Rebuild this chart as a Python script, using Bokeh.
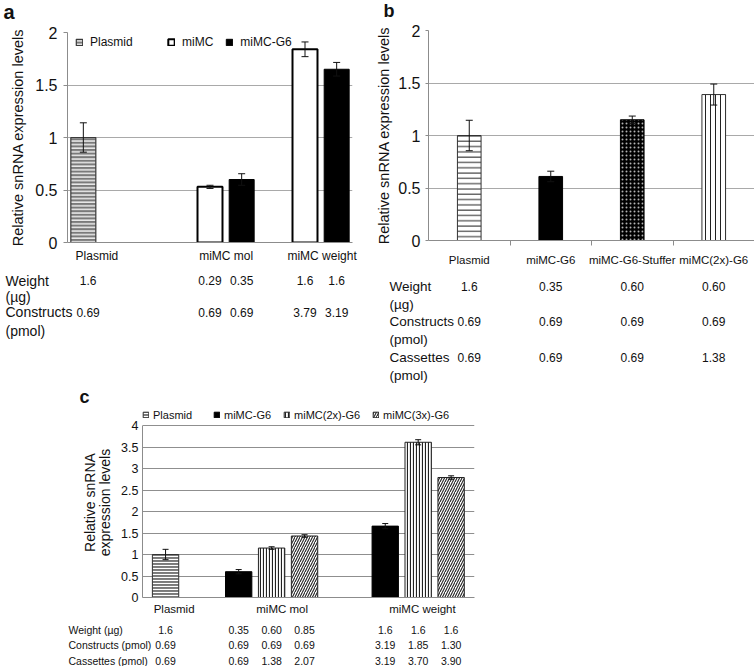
from bokeh.plotting import figure
from bokeh.models import (ColumnDataSource, Range1d, FixedTicker, Whisker, TeeHead,
                          Legend, LegendItem, AllLabels)
from bokeh.layouts import column, row
from bokeh.embed import file_html
from bokeh.resources import INLINE
from bokeh.core.properties import value

# ======================= DATA =======================
# ---- panel a ----
A_CATEGORIES = ["Plasmid", "miMC mol", "miMC weight"]
A_SERIES = ["Plasmid", "miMC", "miMC-G6"]
A_PLASMID = [1.00, None, None]
A_PLASMID_ERR = [0.14, None, None]
A_MIMC = [None, 0.53, 1.84]
A_MIMC_ERR = [None, 0.015, 0.07]
A_G6 = [None, 0.60, 1.65]
A_G6_ERR = [None, 0.055, 0.065]
A_ROW_LABELS = [["Weight", "(µg)"], ["Constructs", "(pmol)"]]
A_WEIGHT = [["1.6", None, None], [None, "0.29", "1.6"], [None, "0.35", "1.6"]]
A_CONSTRUCTS = [["0.69", None, None], [None, "0.69", "3.79"], [None, "0.69", "3.19"]]
A_YTICKS = [0, 0.5, 1, 1.5, 2]

# ---- panel b ----
B_CATEGORIES = ["Plasmid", "miMC-G6", "miMC-G6-Stuffer", "miMC(2x)-G6"]
B_VALUES = [1.00, 0.61, 1.15, 1.39]
B_ERR = [0.145, 0.05, 0.035, 0.10]
B_ROW_LABELS = [["Weight", "(µg)"], ["Constructs", "(pmol)"], ["Cassettes", "(pmol)"]]
B_WEIGHT = ["1.6", "0.35", "0.60", "0.60"]
B_CONSTRUCTS = ["0.69", "0.69", "0.69", "0.69"]
B_CASSETTES = ["0.69", "0.69", "0.69", "1.38"]
B_YTICKS = [0, 0.5, 1, 1.5, 2]

# ---- panel c ----
C_CATEGORIES = ["Plasmid", "miMC mol", "miMC weight"]
C_SERIES = ["Plasmid", "miMC-G6", "miMC(2x)-G6", "miMC(3x)-G6"]
C_PLASMID = [1.00, None, None]
C_PLASMID_ERR = [0.12, None, None]
C_G6 = [None, 0.60, 1.66]
C_G6_ERR = [None, 0.05, 0.06]
C_2X = [None, 1.15, 3.61]
C_2X_ERR = [None, 0.03, 0.06]
C_3X = [None, 1.43, 2.79]
C_3X_ERR = [None, 0.03, 0.04]
C_ROW_LABELS = ["Weight (µg)", "Constructs (pmol)", "Cassettes (pmol)"]
C_WEIGHT = [["1.6", None, None], [None, "0.35", "1.6"], [None, "0.60", "1.6"], [None, "0.85", "1.6"]]
C_CONSTRUCTS = [["0.69", None, None], [None, "0.69", "3.19"], [None, "0.69", "1.85"], [None, "0.69", "1.30"]]
C_CASSETTES = [["0.69", None, None], [None, "0.69", "3.19"], [None, "1.38", "3.70"], [None, "2.07", "3.90"]]
C_YTICKS = [0, 0.5, 1, 1.5, 2, 2.5, 3, 3.5, 4]
C_YTITLE = "Relative snRNA\nexpression levels"

# ======================= STYLE / LAYOUT =======================
FONT = "Liberation Sans"
INK = "#111111"
GRID = "#a9a9a9"
AXIS = "#8c8c8c"
GRAYFILL = "#7a7a7a"


def no_align(p):
    if "frame_align" in p.properties():
        p.frame_align = False
    return p


def new_fig(x_end, y_end, left, top, fw, fh, width, height):
    p = figure(x_range=Range1d(0, x_end), y_range=Range1d(0, y_end),
               frame_width=fw, frame_height=fh,
               min_border_left=left, min_border_top=top,
               min_border_right=width - left - fw, min_border_bottom=height - top - fh,
               output_backend="svg", toolbar_location=None)
    no_align(p)
    p.outline_line_color = None
    p.background_fill_color = "white"
    p.border_fill_color = "white"
    p.xgrid.visible = False
    p.ygrid.grid_line_color = GRID
    p.ygrid.grid_line_width = 1
    for ax in (p.xaxis[0], p.yaxis[0]):
        ax.axis_line_color = AXIS
        ax.major_tick_line_color = AXIS
        ax.minor_tick_line_color = None
        ax.major_label_policy = AllLabels()
        ax.major_label_text_color = INK
    return p


def blank_fig(width, height, x0, x1, top_page, bottom_page):
    p = figure(frame_width=width, frame_height=height, x_range=Range1d(x0, x1),
               y_range=Range1d(bottom_page, top_page),
               min_border_left=0, min_border_right=0, min_border_top=0, min_border_bottom=0,
               x_axis_type=None, y_axis_type=None, output_backend="svg", toolbar_location=None)
    no_align(p)
    p.outline_line_color = None
    p.grid.visible = False
    p.background_fill_color = "white"
    p.border_fill_color = "white"
    return p


def y_axis(p, ticks, size, standoff, tick_out, title, title_size, title_standoff):
    ax = p.yaxis[0]
    ax.ticker = FixedTicker(ticks=ticks, minor_ticks=[])
    ax.major_label_overrides = {t: f"{t:g}" for t in ticks}
    ax.major_label_text_font = FONT
    ax.major_label_text_font_size = size
    ax.major_label_standoff = standoff
    ax.major_tick_out = tick_out
    ax.major_tick_in = 0
    ax.axis_label = title
    ax.axis_label_text_font = FONT
    ax.axis_label_text_font_size = title_size
    ax.axis_label_text_font_style = "normal"
    ax.axis_label_text_color = INK
    ax.axis_label_standoff = title_standoff


def x_axis(p, ticks, labels, size, standoff, minor=None):
    ax = p.xaxis[0]
    ax.ticker = FixedTicker(ticks=ticks, minor_ticks=minor or [])
    ax.major_label_overrides = dict(zip(ticks, labels))
    ax.major_label_text_font = FONT
    ax.major_label_text_font_size = size
    ax.major_label_standoff = standoff
    ax.major_tick_out = 0
    ax.major_tick_in = 0
    if minor:
        ax.minor_tick_line_color = AXIS
        ax.minor_tick_out = 5
        ax.minor_tick_in = 0


def bars(p, xs, vals, errs, width, head, **style):
    keep = [i for i, v in enumerate(vals) if v is not None]
    src = ColumnDataSource(dict(
        x=[xs[i] for i in keep], top=[vals[i] for i in keep],
        upper=[vals[i] + errs[i] for i in keep], lower=[vals[i] - errs[i] for i in keep]))
    r = p.vbar(x="x", top="top", bottom=0, width=width, source=src, **style)
    p.add_layout(Whisker(source=src, base="x", upper="upper", lower="lower",
                         line_color=INK, line_width=1, level="overlay",
                         upper_head=TeeHead(size=head, line_color=INK, line_width=1),
                         lower_head=TeeHead(size=head, line_color=INK, line_width=1)))
    return r


def put_text(p, xs, ys, ts, size, align="center", bold=False):
    keep = [i for i, t in enumerate(ts) if t is not None]
    src = ColumnDataSource(dict(x=[xs[i] for i in keep], y=[ys[i] for i in keep],
                                t=[ts[i] for i in keep]))
    p.text(x="x", y="y", text="t", source=src, text_font=value(FONT), text_font_size=value(size),
           text_align=align, text_baseline="middle", text_color=INK,
           text_font_style="bold" if bold else "normal")


def legend(p, items, x, y, size, glyph, standoff, spacing):
    leg = Legend(items=[LegendItem(label=l, renderers=[r]) for l, r in items], location=(x, y),
                 orientation="horizontal", border_line_color=None, background_fill_alpha=0,
                 padding=0, margin=0, spacing=spacing, label_standoff=standoff,
                 glyph_width=glyph, glyph_height=glyph, label_height=14,
                 label_text_font=FONT, label_text_font_size=size, label_text_color=INK)
    p.add_layout(leg)


TOP_ROW_H = 382

# ======================= PANEL A =======================
# page geometry in px, the page starts at (0, 0)
A_W = 372
A_HEAD_H = 23
A_L, A_T, A_FW, A_FH, A_B = 67, 9, 285, 210, 24
A_TAB_H = TOP_ROW_H - A_HEAD_H - (A_T + A_FH + A_B)
A_XPX = A_FW / 3.0
A_FRAME_LEFT_PAGE = A_L
A_AXIS_PAGE = A_HEAD_H + A_T + A_FH

ha = blank_fig(A_W, A_HEAD_H, 0, A_W, 0, A_HEAD_H)
put_text(ha, [3], [11.5], ["a"], "20px", align="left", bold=True)

pa = new_fig(3, 2, A_L, A_T, A_FW, A_FH, A_W, A_T + A_FH + A_B)
y_axis(pa, A_YTICKS, "16px", 6, 4, "Relative snRNA expression levels", "14.5px", 6)


def a_x(slot, cat):
    return cat + (slot + 0.5) / 3.0


A_LABEL_X = [0.31, 1.67, 2.68]
x_axis(pa, A_LABEL_X, A_CATEGORIES, "12px", 6)

a_vals = [A_PLASMID, A_MIMC, A_G6]
a_errs = [A_PLASMID_ERR, A_MIMC_ERR, A_G6_ERR]
a_styles = [
    dict(fill_color=GRAYFILL, line_color="#3a3a3a", line_width=1.2, hatch_pattern="horizontal_line",
         hatch_color="white", hatch_scale=3.6, hatch_weight=1.3),
    dict(fill_color="white", line_color="black", line_width=2),
    dict(fill_color="black", line_color="black", line_width=1),
]
a_r = []
for s in range(3):
    xs = [a_x(s, c) for c in range(3)]
    a_r.append(bars(pa, xs, a_vals[s], a_errs[s], 0.263, 7, **a_styles[s]))

legend(pa, [(A_SERIES[0], a_r[0])], 8, A_AXIS_PAGE - 41.7 - 7, "12px", 8, 7, 10)
legend(pa, [(A_SERIES[1], a_r[1]), (A_SERIES[2], a_r[2])], 100, A_AXIS_PAGE - 41.7 - 7, "12px", 8, 7, 12)

tab_top = A_AXIS_PAGE + A_B
ta = blank_fig(A_W, A_TAB_H, -A_L / A_XPX, 3 + (A_W - A_L - A_FW) / A_XPX, tab_top, tab_top + A_TAB_H)
a_rows_page = [(280, 296.7), (311.7, 330)]
for (y1, y2), (l1, l2), tab in zip(a_rows_page, A_ROW_LABELS, [A_WEIGHT, A_CONSTRUCTS]):
    xl = (5 - A_FRAME_LEFT_PAGE) / A_XPX
    put_text(ta, [xl, xl], [y1, y2], [l1, l2], "14px", align="left")
    xs, ys, ts = [], [], []
    for s in range(3):
        for c in range(3):
            xs.append(a_x(s, c) + (0.05 if c == 0 else 0.0)); ys.append(y1); ts.append(tab[s][c])
    put_text(ta, xs, ys, ts, "12px")

# ======================= PANEL B =======================
B_X0 = A_W
B_W = 754 - A_W
B_HEAD_H = 21
B_L, B_T, B_FW, B_FH, B_B = 56, 9, 326, 210, 24
B_TAB_H = TOP_ROW_H - B_HEAD_H - (B_T + B_FH + B_B)
B_XPX = B_FW / 4.0
B_FRAME_LEFT_PAGE = B_X0 + B_L
B_AXIS_PAGE = B_HEAD_H + B_T + B_FH

hb = blank_fig(B_W, B_HEAD_H, B_X0, B_X0 + B_W, 0, B_HEAD_H)
put_text(hb, [383], [10.5], ["b"], "18px", align="left", bold=True)

pb = new_fig(4, 2, B_L, B_T, B_FW, B_FH, B_W, B_T + B_FH + B_B)
y_axis(pb, B_YTICKS, "16px", 5, 3, "Relative snRNA expression levels", "14.5px", 3)
b_x = [i + 0.5 for i in range(4)]
x_axis(pb, b_x, B_CATEGORIES, "11.5px", 8, minor=[1, 2, 3])
b_styles = [
    dict(fill_color="white", line_color="#333333", line_width=1, hatch_pattern="horizontal_line",
         hatch_color="#222222", hatch_scale=5.3, hatch_weight=1),
    dict(fill_color="black", line_color="black", line_width=1),
    dict(fill_color="black", line_color="black", line_width=1, hatch_pattern="dot",
         hatch_color="white", hatch_scale=4, hatch_weight=0.25, hatch_alpha=0.7),
    dict(fill_color="white", line_color="#333333", line_width=1, hatch_pattern="vertical_line",
         hatch_color="#222222", hatch_scale=5, hatch_weight=1),
]
for i in range(4):
    bars(pb, [b_x[i]], [B_VALUES[i]], [B_ERR[i]], 0.29, 7, **b_styles[i])

tab_top = B_AXIS_PAGE + B_B
tb = blank_fig(B_W, B_TAB_H, -B_L / B_XPX, 4 + (B_W - B_L - B_FW) / B_XPX, tab_top, tab_top + B_TAB_H)
b_rows_page = [(281.7, 300), (316.7, 335), (353, 371)]
for (y1, y2), (l1, l2), tab in zip(b_rows_page, B_ROW_LABELS, [B_WEIGHT, B_CONSTRUCTS, B_CASSETTES]):
    xl = (389 - B_FRAME_LEFT_PAGE) / B_XPX
    put_text(tb, [xl, xl], [y1, y2], [l1, l2], "13.5px", align="left")
    put_text(tb, b_x, [y1] * 4, tab, "12px")

# ======================= PANEL C =======================
C_W = 490
C_TOP_PAGE = TOP_ROW_H
C_HEAD_H = 21
C_L, C_FW, C_B = 142, 332, 20
C_XEND = 10.08
C_XPX = C_FW / C_XEND
C_YPX = 43.0
C_YEXT = 18.0                      # px of frame kept above the "4" gridline for the legend
C_YEND = 4 + C_YEXT / C_YPX
C_FH = int(round(C_YEND * C_YPX))
C_TAB_H = 666 - C_TOP_PAGE - C_HEAD_H - C_FH - C_B
C_FRAME_LEFT_PAGE = C_L
C_AXIS_PAGE = C_TOP_PAGE + C_HEAD_H + C_FH

hc = blank_fig(C_W, C_HEAD_H, 0, C_W, C_TOP_PAGE, C_TOP_PAGE + C_HEAD_H)
put_text(hc, [79], [C_TOP_PAGE + 10.5], ["c"], "18px", align="left", bold=True)

pc = new_fig(C_XEND, C_YEND, C_L, 0, C_FW, C_FH, C_W, C_FH + C_B)
pc.ygrid.grid_line_color = "#8f8f8f"
y_axis(pc, C_YTICKS, "12.5px", 4, 0, C_YTITLE, "14px", 5)
pc.yaxis[0].bounds = (0, 4)
pc.yaxis[0].axis_label_text_line_height = 0.95
C_GROUP_X = [0.70, 3.92, 8.37]
C_SERIES_DX = [0, -1, 0, 1]
C_LABEL_X = [0.96, 4.24, 8.50]
x_axis(pc, C_LABEL_X, C_CATEGORIES, "11.5px", 5)

c_vals = [C_PLASMID, C_G6, C_2X, C_3X]
c_errs = [C_PLASMID_ERR, C_G6_ERR, C_2X_ERR, C_3X_ERR]
c_styles = [
    dict(fill_color=GRAYFILL, line_color="#333333", line_width=1, hatch_pattern="horizontal_line",
         hatch_color="white", hatch_scale=3, hatch_weight=1.1),
    dict(fill_color="black", line_color="black", line_width=1),
    dict(fill_color="white", line_color="#222222", line_width=1, hatch_pattern="vertical_line",
         hatch_color="#222222", hatch_scale=3, hatch_weight=1.2),
    dict(fill_color="white", line_color="#222222", line_width=1, hatch_pattern="right_diagonal_line",
         hatch_color="#222222", hatch_scale=5, hatch_weight=1.1),
]
c_r = []
c_xs_all = []
for s in range(4):
    xs = [C_GROUP_X[c] + C_SERIES_DX[s] for c in range(3)]
    c_xs_all.append(xs)
    c_r.append(bars(pc, xs, c_vals[s], c_errs[s], 0.8, 6, **c_styles[s]))

leg_y = C_AXIS_PAGE - 410.7 - 7
legend(pc, [(C_SERIES[0], c_r[0])], 0, leg_y, "11px", 7, 4, 10)
legend(pc, [(C_SERIES[1], c_r[1]), (C_SERIES[2], c_r[2]), (C_SERIES[3], c_r[3])], 71, leg_y,
       "11px", 7, 4, 12)

tab_top = C_AXIS_PAGE + C_B
tc = blank_fig(C_W, C_TAB_H, -C_L / C_XPX, C_XEND + (C_W - C_L - C_FW) / C_XPX, tab_top, tab_top + C_TAB_H)
c_rows_page = [625, 640, 656]
for yp, lab, tab in zip(c_rows_page, C_ROW_LABELS, [C_WEIGHT, C_CONSTRUCTS, C_CASSETTES]):
    put_text(tc, [(68 - C_FRAME_LEFT_PAGE) / C_XPX], [yp], [lab], "10.5px", align="left")
    xs, ys, ts = [], [], []
    for s in range(4):
        for c in range(3):
            xs.append(c_xs_all[s][c]); ys.append(yp); ts.append(tab[s][c])
    put_text(tc, xs, ys, ts, "10.5px")

layout = column(row(column(ha, pa, ta), column(hb, pb, tb)), column(hc, pc, tc))
open("out.html", "w").write(file_html(layout, INLINE))
